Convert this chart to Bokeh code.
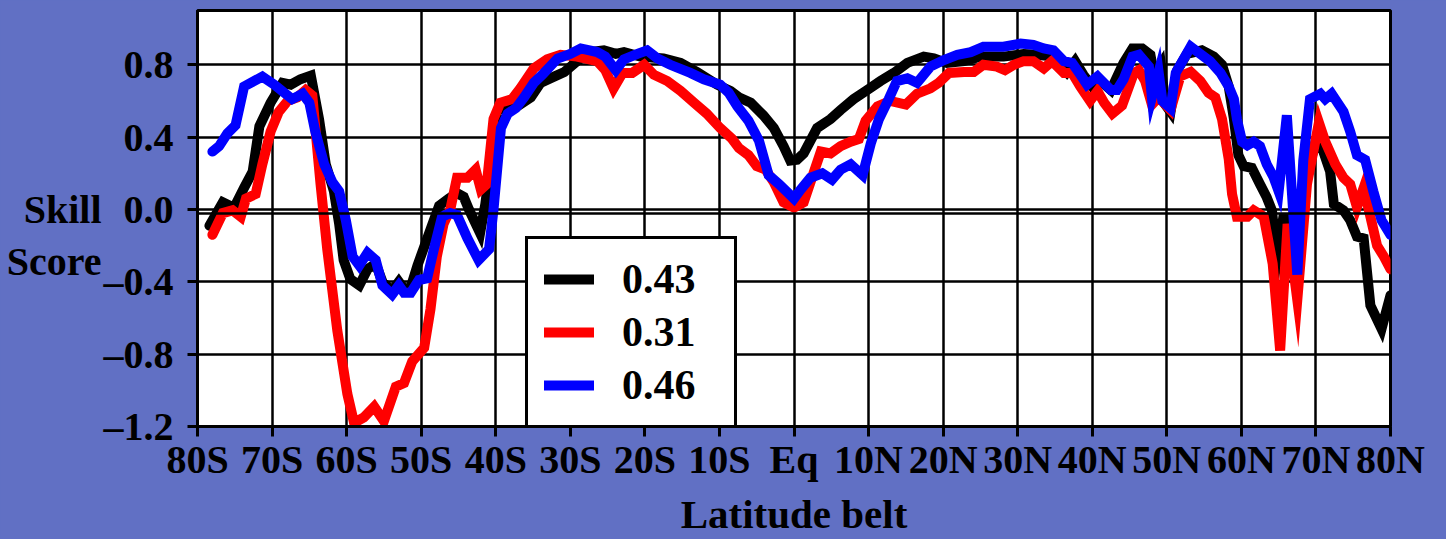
import re
from bokeh.plotting import figure
from bokeh.models import (FixedTicker, Range1d, Legend, LegendItem, Span, LinearAxis)
from bokeh.embed import file_html
from bokeh.resources import INLINE

# ---------------- data ----------------
lat_ticks = [-80, -70, -60, -50, -40, -30, -20, -10, 0, 10, 20, 30, 40, 50, 60, 70, 80]
lat_tick_labels = ["80S", "70S", "60S", "50S", "40S", "30S", "20S", "10S", "Eq",
                   "10N", "20N", "30N", "40N", "50N", "60N", "70N", "80N"]
skill_ticks = [-1.2, -0.8, -0.4, 0.0, 0.4, 0.8]
skill_tick_labels = ["\u20131.2", "\u20130.8", "\u20130.4", "0.0", "0.4", "0.8"]
y_title_lines = ["Skill", "Score"]
x_title = "Latitude belt"

legend_labels = ["0.43", "0.31", "0.46"]
series_colors = ["#000000", "#ff0000", "#0000ff"]

black_lat = [-78.4, -76.6, -75.1, -73.75, -72.6, -71.7, -70.2, -68.6, -67.5, -66.2,
             -64.8, -63.7, -62.8, -61.7, -61.0, -60.4, -59.5, -58.3, -57.2, -56.1,
             -55.2, -53.9, -53.0, -52.3, -51.4, -50.5, -48.75, -47.6, -46.3, -45.2,
             -44.3, -43.6, -42.1, -41.4, -40.3, -39.6, -37.1, -35.3, -34.0, -32.4,
             -30.8, -29.1, -27.3, -25.5, -23.9, -22.8, -20.6, -17.5, -15.2, -13.0,
             -10.3, -8.5, -7.4, -5.8, -4.1, -2.7, -1.4, -0.5, 0.4, 1.3,
             3.1, 4.9, 6.25, 8.0, 9.8, 11.6, 13.4, 15.2, 17.4, 18.75,
             20.5, 22.8, 25.0, 28.1, 30.8, 32.6, 34.8, 36.6, 37.7, 38.8,
             40.0, 41.1, 42.5, 44.2, 45.4, 46.7, 47.8, 48.3, 49.2, 49.8,
             50.5, 51.4, 52.7, 54.7, 56.3, 57.4, 58.3, 59.0, 59.6, 60.3,
             61.4, 62.5, 63.4, 64.1, 64.8, 65.6, 66.6, 67.5, 68.8, 70.1,
             71.0, 71.9, 72.4, 73.7, 74.6, 75.5, 76.4, 77.3, 78.8, 80.0]
black_skill = [-0.09, 0.04, 0.01, 0.12, 0.21, 0.46, 0.59, 0.70, 0.69, 0.72,
               0.74, 0.50, 0.25, 0.10, -0.08, -0.28, -0.385, -0.42, -0.33, -0.30,
               -0.40, -0.45, -0.40, -0.44, -0.43, -0.31, -0.11, 0.02, 0.06, 0.09,
               0.07, 0.00, -0.13, 0.03, 0.38, 0.55, 0.57, 0.62, 0.70, 0.73,
               0.76, 0.82, 0.87, 0.88, 0.86, 0.87, 0.845, 0.835, 0.81, 0.76,
               0.69, 0.655, 0.62, 0.59, 0.52, 0.45, 0.35, 0.27, 0.275, 0.31,
               0.45, 0.50, 0.55, 0.61, 0.66, 0.71, 0.755, 0.81, 0.845, 0.835,
               0.81, 0.82, 0.845, 0.845, 0.86, 0.855, 0.845, 0.76, 0.82, 0.745,
               0.68, 0.71, 0.66, 0.81, 0.89, 0.89, 0.855, 0.74, 0.80, 0.58,
               0.54, 0.77, 0.86, 0.88, 0.845, 0.80, 0.68, 0.50, 0.30, 0.24,
               0.23, 0.14, 0.067, -0.005, -0.27, -0.05, -0.05, -0.30, 0.20, 0.39,
               0.32, 0.21, 0.03, -0.005, -0.06, -0.15, -0.16, -0.53, -0.66, -0.475]

red_lat = [-78.0, -76.6, -75.3, -74.2, -73.5, -72.2, -71.3, -70.2, -69.1, -67.9,
           -66.6, -65.5, -64.6, -63.5, -62.6, -61.25, -59.9, -59.0, -57.7, -56.3,
           -55.0, -53.4, -52.3, -51.2, -49.6, -48.75, -47.9, -47.0, -46.1, -45.2,
           -43.8, -42.7, -42.0, -41.2, -40.3, -39.4, -37.8, -36.7, -34.9, -33.1,
           -31.3, -29.1, -26.4, -25.3, -24.2, -23.0, -21.7, -20.1, -18.8, -17.0,
           -15.2, -13.4, -11.7, -9.9, -8.3, -7.4, -6.1, -5.0, -3.8, -2.7,
           -1.4, 0.0, 1.3, 2.7, 3.6, 4.9, 6.25, 7.6, 8.7, 9.6,
           11.2, 12.9, 15.0, 16.5, 18.3, 19.4, 20.8, 22.8, 24.1, 25.4,
           27.2, 28.3, 29.5, 30.8, 32.1, 33.5, 34.6, 36.2, 37.3, 38.4,
           39.7, 40.7, 41.6, 42.7, 44.0, 45.6, 46.25, 47.1, 48.0, 48.9,
           50.5, 51.8, 53.2, 54.5, 55.6, 56.5, 57.4, 58.3, 58.75, 59.4,
           60.8, 61.65, 63.0, 64.2, 65.2, 66.2, 67.5, 68.8, 70.4, 71.25,
           72.6, 73.7, 74.6, 75.5, 76.4, 77.3, 78.2, 79.1, 80.0]
red_skill = [-0.14, -0.02, -0.005, -0.04, 0.06, 0.085, 0.25, 0.43, 0.54, 0.60,
             0.62, 0.66, 0.63, 0.14, -0.22, -0.67, -1.02, -1.18, -1.15, -1.09,
             -1.17, -0.98, -0.96, -0.84, -0.765, -0.55, -0.26, -0.08, 0.0, 0.175,
             0.175, 0.22, 0.11, 0.14, 0.50, 0.59, 0.61, 0.67, 0.78, 0.83,
             0.855, 0.845, 0.82, 0.77, 0.67, 0.755, 0.755, 0.80, 0.745, 0.71,
             0.655, 0.59, 0.53, 0.45, 0.39, 0.34, 0.30, 0.24, 0.22, 0.15,
             0.04, 0.01, 0.04, 0.21, 0.32, 0.31, 0.35, 0.375, 0.39, 0.49,
             0.57, 0.60, 0.58, 0.64, 0.67, 0.70, 0.755, 0.76, 0.76, 0.80,
             0.79, 0.77, 0.80, 0.82, 0.82, 0.78, 0.82, 0.755, 0.755, 0.68,
             0.60, 0.655, 0.59, 0.53, 0.575, 0.755, 0.77, 0.71, 0.58, 0.62,
             0.55, 0.735, 0.76, 0.71, 0.645, 0.62, 0.50, 0.28, 0.085, -0.04,
             -0.04, -0.005, -0.04, -0.30, -0.78, -0.08, -0.50, 0.14, 0.48, 0.375,
             0.25, 0.175, 0.14, 0.013, 0.12, -0.04, -0.20, -0.26, -0.33]

blue_lat = [-78.0, -77.1, -76.0, -74.9, -73.75, -71.3, -69.7, -67.3, -65.9, -65.0,
            -64.2, -63.0, -61.9, -61.0, -60.1, -59.2, -58.3, -57.2, -56.1, -55.2,
            -53.9, -53.0, -52.3, -51.4, -50.3, -49.2, -48.3, -47.2, -46.1, -45.2,
            -43.8, -42.3, -40.9, -40.3, -39.3, -38.4, -37.3, -36.2, -34.9, -33.75,
            -31.7, -30.0, -28.6, -26.4, -25.3, -23.9, -22.8, -21.0, -19.7, -18.3,
            -16.6, -13.9, -12.1, -9.9, -8.75, -7.6, -6.1, -4.7, -3.4, -2.0,
            0.0, 0.9, 2.2, 3.8, 5.1, 6.25, 7.6, 9.2, 10.3, 11.4,
            12.7, 13.8, 15.2, 16.5, 18.3, 20.1, 21.9, 23.7, 25.4, 28.1,
            30.4, 32.1, 33.5, 34.8, 36.2, 37.3, 38.4, 39.3, 40.7, 42.5,
            43.3, 44.2, 45.4, 46.25, 47.6, 48.0, 48.9, 49.4, 50.5, 51.2,
            53.2, 54.5, 55.8, 57.2, 58.3, 59.0, 59.4, 60.1, 60.8, 61.65,
            62.5, 63.4, 64.3, 65.0, 66.1, 67.5, 68.3, 69.2, 70.6, 71.25,
            72.1, 73.7, 74.6, 75.5, 76.6, 77.7, 78.8, 80.0]
blue_skill = [0.32, 0.35, 0.42, 0.465, 0.68, 0.735, 0.69, 0.61, 0.64, 0.59,
              0.43, 0.25, 0.15, 0.10, -0.06, -0.26, -0.31, -0.24, -0.28, -0.42,
              -0.47, -0.42, -0.46, -0.46, -0.39, -0.38, -0.22, -0.04, -0.02, -0.03,
              -0.16, -0.28, -0.22, 0.0, 0.45, 0.53, 0.56, 0.62, 0.70, 0.745,
              0.835, 0.86, 0.89, 0.87, 0.845, 0.77, 0.83, 0.86, 0.88, 0.835,
              0.80, 0.755, 0.72, 0.69, 0.645, 0.57, 0.49, 0.38, 0.19, 0.14,
              0.06, 0.11, 0.175, 0.20, 0.165, 0.22, 0.25, 0.19, 0.365, 0.50,
              0.61, 0.71, 0.725, 0.70, 0.79, 0.826, 0.855, 0.87, 0.90, 0.90,
              0.917, 0.91, 0.89, 0.88, 0.82, 0.81, 0.745, 0.69, 0.735, 0.66,
              0.66, 0.72, 0.845, 0.855, 0.79, 0.62, 0.76, 0.60, 0.56, 0.755,
              0.90, 0.86, 0.82, 0.755, 0.68, 0.61, 0.50, 0.375, 0.355, 0.375,
              0.35, 0.25, 0.18, 0.10, 0.52, -0.36, 0.27, 0.61, 0.64, 0.61,
              0.64, 0.54, 0.43, 0.30, 0.275, 0.10, -0.06, -0.14]

# ---------------- figure ----------------
BG = "#6170c4"
FONT = "Liberation Serif"

p = figure(width=1446, height=539, output_backend="svg", toolbar_location=None,
           x_range=Range1d(-80, 80), y_range=Range1d(-1.2, 1.1),
           min_border_left=197, min_border_right=56, min_border_top=10,
           min_border_bottom=106)
p.background_fill_color = "white"
p.border_fill_color = BG
p.outline_line_color = "black"
p.outline_line_width = 3

for ax in (p.xaxis[0], p.yaxis[0]):
    ax.axis_line_color = "black"
    ax.axis_line_width = 3
    ax.major_tick_line_color = "black"
    ax.major_tick_line_width = 3
    ax.major_tick_out = 10
    ax.major_tick_in = 0
    ax.minor_tick_line_color = None
    ax.major_label_text_font = FONT
    ax.major_label_text_font_style = "bold"
    ax.major_label_text_color = "black"
    ax.major_label_text_font_size = "40px"

p.xaxis.ticker = FixedTicker(ticks=lat_ticks)
p.xaxis.major_label_overrides = {t: s for t, s in zip(lat_ticks, lat_tick_labels)}
p.xaxis.major_label_standoff = 0
p.xaxis.axis_label = x_title
p.xaxis.axis_label_text_font = FONT
p.xaxis.axis_label_text_font_style = "bold"
p.xaxis.axis_label_text_font_size = "41px"
p.xaxis.axis_label_text_color = "black"
p.xaxis.axis_label_standoff = 6
p.yaxis.ticker = FixedTicker(ticks=skill_ticks)
p.yaxis.major_label_overrides = {t: s for t, s in zip(skill_ticks, skill_tick_labels)}
p.yaxis.major_label_standoff = 14

# y-axis title ("Skill" / "Score"), written horizontally on two lines,
# placed as the labels of an outer left axis without line or ticks
title_pos = [0.0, -0.29]
title_axis = LinearAxis(ticker=FixedTicker(ticks=title_pos),
                        major_label_overrides={t: s for t, s in zip(title_pos, y_title_lines)},
                        axis_line_color=None, major_tick_line_color=None,
                        minor_tick_line_color=None, major_tick_out=0, major_tick_in=0,
                        major_label_standoff=-1,
                        major_label_text_font=FONT, major_label_text_font_style="bold",
                        major_label_text_color="black", major_label_text_font_size="40px")
p.add_layout(title_axis, "left")

p.xgrid.ticker = FixedTicker(ticks=lat_ticks)
p.ygrid.ticker = FixedTicker(ticks=skill_ticks)
for g in (p.xgrid[0], p.ygrid[0]):
    g.grid_line_color = "black"
    g.grid_line_width = 2.5
    g.grid_line_alpha = 1

renderers = []
for lat, sk, col in ((black_lat, black_skill, series_colors[0]),
                     (red_lat, red_skill, series_colors[1]),
                     (blue_lat, blue_skill, series_colors[2])):
    r = p.line(lat, sk, line_color=col, line_width=10, line_join="miter",
               line_cap="round")
    renderers.append(r)

p.add_layout(Span(location=-0.022, dimension="width", line_color="black",
                  line_width=2.5))

legend = Legend(items=[LegendItem(label=l, renderers=[r])
                       for l, r in zip(legend_labels, renderers)],
                location=(328, -2), orientation="vertical")
legend.label_text_font = FONT
legend.label_text_font_style = "bold"
legend.label_text_font_size = "42px"
legend.label_text_color = "black"
legend.glyph_width = 50
legend.glyph_height = 44
legend.label_height = 44
legend.label_width = 96
legend.label_standoff = 28
legend.padding = 16
legend.spacing = 5
legend.margin = 0
legend.border_line_color = "black"
legend.border_line_alpha = 1
legend.border_line_width = 3
legend.background_fill_color = "white"
legend.background_fill_alpha = 1
p.add_layout(legend)

html = file_html(p, INLINE)
html = re.sub(r"<html([^>]*)>", r'<html\1 style="background-color:%s">' % BG, html, count=1)
html = re.sub(r"<body([^>]*)>", r'<body\1 style="background-color:%s">' % BG, html, count=1)
open("out.html", "w").write(html)
